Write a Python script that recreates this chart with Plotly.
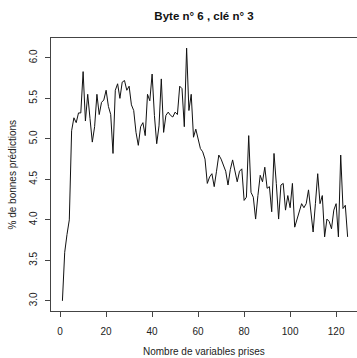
import plotly.graph_objects as go

# Number of variables used (1..125) and the matching success rate (%)
n_variables = list(range(1, 126))
pct_correct = [
    3.00, 3.60, 3.82, 4.00, 5.10, 5.26, 5.20, 5.32, 5.32, 5.83,
    5.22, 5.55, 5.25, 4.96, 5.15, 5.55, 5.30, 5.45, 5.48, 5.60,
    5.40, 5.30, 4.82, 5.60, 5.68, 5.50, 5.70, 5.72, 5.60, 5.65,
    5.42, 5.35, 5.08, 4.92, 5.15, 5.20, 5.04, 5.55, 5.47, 5.80,
    5.29, 4.94, 5.16, 5.74, 5.08, 5.29, 5.33, 5.29, 5.27, 5.33,
    5.30, 5.65, 5.62, 5.15, 6.12, 5.35, 5.55, 5.02, 5.12, 5.00,
    4.88, 4.84, 4.75, 4.45, 4.53, 4.57, 4.41, 4.60, 4.80, 4.75,
    4.68, 4.60, 4.43, 4.62, 4.74, 4.62, 4.47, 4.60, 4.63, 4.24,
    4.28, 5.04, 4.34, 4.28, 4.01, 4.30, 4.55, 4.47, 4.65, 4.39,
    4.41, 4.10, 4.82, 4.45, 4.01, 4.43, 4.45, 4.12, 4.30, 4.15,
    4.45, 3.91, 4.00, 4.08, 4.20, 4.15, 4.20, 4.37, 4.10, 3.85,
    4.20, 4.57, 4.20, 4.30, 3.79, 4.01, 3.98, 3.89, 4.12, 4.20,
    3.79, 4.80, 4.14, 4.18, 3.79,
]

x_ticks = [0, 20, 40, 60, 80, 100, 120]
y_ticks = [3.0, 3.5, 4.0, 4.5, 5.0, 5.5, 6.0]

title_text = "Byte n° 6 , clé n° 3"
x_label = "Nombre de variables prises"
y_label = "% de bonnes prédictions"

FONT = "Liberation Sans, Arial, sans-serif"
AXIS_COLOR = "#444444"
TEXT_COLOR = "#222222"

fig = go.Figure(
    go.Scatter(
        x=n_variables,
        y=pct_correct,
        mode="lines",
        line=dict(color="#111111", width=1),
        hoverinfo="skip",
    )
)

fig.update_layout(
    width=357,
    height=358,
    autosize=False,
    margin=dict(l=51, r=0, t=37.6, b=46.8),
    paper_bgcolor="white",
    plot_bgcolor="white",
    showlegend=False,
    font=dict(family=FONT, size=10, color=TEXT_COLOR),
    title=dict(
        text=f"<b>{title_text}</b>",
        x=0.5715,
        xanchor="center",
        y=1 - 15.7 / 358,
        yanchor="middle",
        font=dict(family=FONT, size=11.5, color="#111111"),
    ),
    annotations=[
        dict(
            text=x_label,
            xref="paper", yref="paper",
            x=0.5, y=(311.2 - 352) / 273.6,
            xanchor="center", yanchor="middle",
            showarrow=False,
            font=dict(family=FONT, size=10, color=TEXT_COLOR),
        ),
        dict(
            text=y_label,
            xref="paper", yref="paper",
            x=(12 - 51) / 306, y=0.5,
            xanchor="center", yanchor="middle",
            textangle=-90,
            showarrow=False,
            font=dict(family=FONT, size=10, color=TEXT_COLOR),
        ),
    ],
)

fig.update_xaxes(
    range=[-3.96, -3.96 + 306 / 2.3],
    tickmode="array",
    tickvals=x_ticks,
    ticktext=[str(v) for v in x_ticks],
    ticks="outside",
    ticklen=5,
    tickwidth=1,
    tickcolor=AXIS_COLOR,
    showline=True,
    linecolor=AXIS_COLOR,
    linewidth=1,
    mirror=True,
    showgrid=False,
    zeroline=False,
    ticklabelstandoff=6,
)

fig.update_yaxes(
    range=[2.875, 6.245],
    tickmode="array",
    tickvals=y_ticks,
    ticktext=[f"{v:.1f}" for v in y_ticks],
    tickangle=-90,
    ticks="outside",
    ticklen=5,
    tickwidth=1,
    tickcolor=AXIS_COLOR,
    showline=True,
    linecolor=AXIS_COLOR,
    linewidth=1,
    mirror=False,
    showgrid=False,
    zeroline=False,
    ticklabelstandoff=4,
)

fig.write_html("out.html")
